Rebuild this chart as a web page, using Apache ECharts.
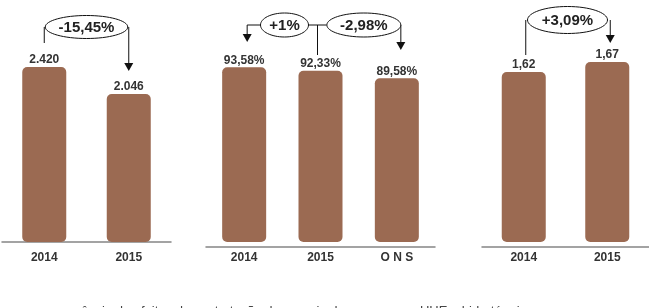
<!DOCTYPE html>
<html>
<head>
<meta charset="utf-8">
<script src="https://cdn.jsdelivr.net/npm/echarts@6/dist/echarts.min.js"></script>
<style>
html, body { margin: 0; padding: 0; background: #fff; }
#chart { width: 649px; height: 308px; }
</style>
</head>
<body>
<div id="chart"></div>
<script>
// painel 1: custo
const cats_custo = ['2014', '2015']
const vals_custo = [2420, 2046]
// painel 2: disponibilidade
const cats_disp = ['2014', '2015', 'O N S']
const vals_disp = [93.58, 92.33, 89.58]
// painel 3: indice
const cats_ind = ['2014', '2015']
const vals_ind = [1.62, 1.67]
// variacoes
const var_custo = '-15,45%'
const var_disp = ['+1%', '-2,98%']
const var_ind = '+3,09%'
const nota = 'ausência de efeitos de contratação de energia de reserva nas UHE e hidrotérmicas'

const barColor = '#9b6a52'
const font = '"Liberation Sans", Arial, Helvetica, sans-serif'

const fmtMil = v => String(v).replace(/\B(?=(\d{3})+(?!\d))/g, '.')
const fmtPct = v => v.toFixed(2).replace('.', ',') + '%'
const fmtDec = v => v.toFixed(2).replace('.', ',')

const chart = echarts.init(document.getElementById('chart'))

const mkX = (i, data) => ({
    type: 'category',
    gridIndex: i,
    data,
    offset: 5,
    axisLine: { lineStyle: { color: '#858585', width: 1.5 } },
    axisTick: { show: false },
    axisLabel: { color: '#333', fontWeight: 'bold', fontSize: 12, fontFamily: font, margin: 5 }
})
const mkY = (i, min, max) => ({
    type: 'value', gridIndex: i, min, max, show: false, splitLine: { show: false }
})
const mkS = (i, data, fmt) => ({
    type: 'bar',
    xAxisIndex: i,
    yAxisIndex: i,
    data,
    barWidth: 44,
    itemStyle: { color: barColor, borderRadius: 5 },
    label: {
        show: true,
        position: 'top',
        distance: 1,
        color: '#333',
        fontWeight: 'bold',
        fontSize: 12,
        fontFamily: font,
        formatter: p => fmt(p.value)
    },
    silent: true
})

chart.setOption({
    animation: false,
    grid: [
        { left: 2, width: 169, top: 10, bottom: 66 },
        { left: 206, width: 229, top: 10, bottom: 66 },
        { left: 482, width: 168, top: 10, bottom: 66 }
    ],
    xAxis: [mkX(0, cats_custo), mkX(1, cats_disp), mkX(2, cats_ind)],
    yAxis: [mkY(0, 0, 3208), mkY(1, 30, 114.4), mkY(2, 0.77, 1.93)],
    series: [mkS(0, vals_custo, fmtMil), mkS(1, vals_disp, fmtPct), mkS(2, vals_ind, fmtDec)]
})

// anotacoes (baloes e setas) ancoradas no centro das barras
const px = (axis, idx) => chart.convertToPixel({ xAxisIndex: axis }, idx)
const line = (x1, y1, x2, y2) => ({
    type: 'line', silent: true,
    shape: { x1, y1, x2, y2 },
    style: { stroke: '#111', lineWidth: 1 }
})
const arrow = (x, y) => ({
    type: 'polygon', silent: true,
    shape: { points: [[x - 4.5, y - 8], [x + 4.5, y - 8], [x, y]] },
    style: { fill: '#111' }
})
const bubble = (cx, cy, rx, ry, text) => ({
    type: 'group', silent: true,
    children: [
        { type: 'ellipse', shape: { cx, cy, rx, ry }, style: { fill: '#fff', stroke: '#111', lineWidth: 1 } },
        {
            type: 'text', x: cx, y: cy + 1,
            style: { text, fill: '#222', font: 'bold 15px ' + font, align: 'center', verticalAlign: 'middle' }
        }
    ]
})

const els = []
// painel 1
let a = px(0, 0), b = px(0, 1)
els.push(line(a, 27, a, 43), line(b, 27, b, 64), arrow(b, 71))
els.push(bubble((a + b) / 2, 27, (b - a) / 2 - 1, 11.5, var_custo))
// painel 2
a = px(1, 0); b = px(1, 1); let c = px(1, 2)
els.push(line(a + 3, 25, b - 60, 25), line(a + 3, 25, a + 3, 35), arrow(a + 3, 42))
els.push(line(b - 13, 25, b + 6, 25), line(b - 3, 25, b - 3, 55))
els.push(line(c + 4, 25, c + 4, 43), arrow(c + 4, 50))
els.push(bubble(b - 36, 25, 24, 12, var_disp[0]))
els.push(bubble(c - 33, 25, 37, 12, var_disp[1]))
// painel 3
a = px(2, 0); b = px(2, 1)
els.push(line(a + 2, 20, a + 2, 55), line(b + 3, 20, b + 3, 36), arrow(b + 3, 43))
els.push(bubble((a + b) / 2 + 2, 20, 40, 13.5, var_ind))
// nota de rodape (cortada na borda inferior)
els.push({
    type: 'text', x: 60, y: 305, silent: true,
    style: { text: nota, fill: '#444', font: '13px ' + font, verticalAlign: 'top' }
})

chart.setOption({ graphic: els })
</script>
</body>
</html>
